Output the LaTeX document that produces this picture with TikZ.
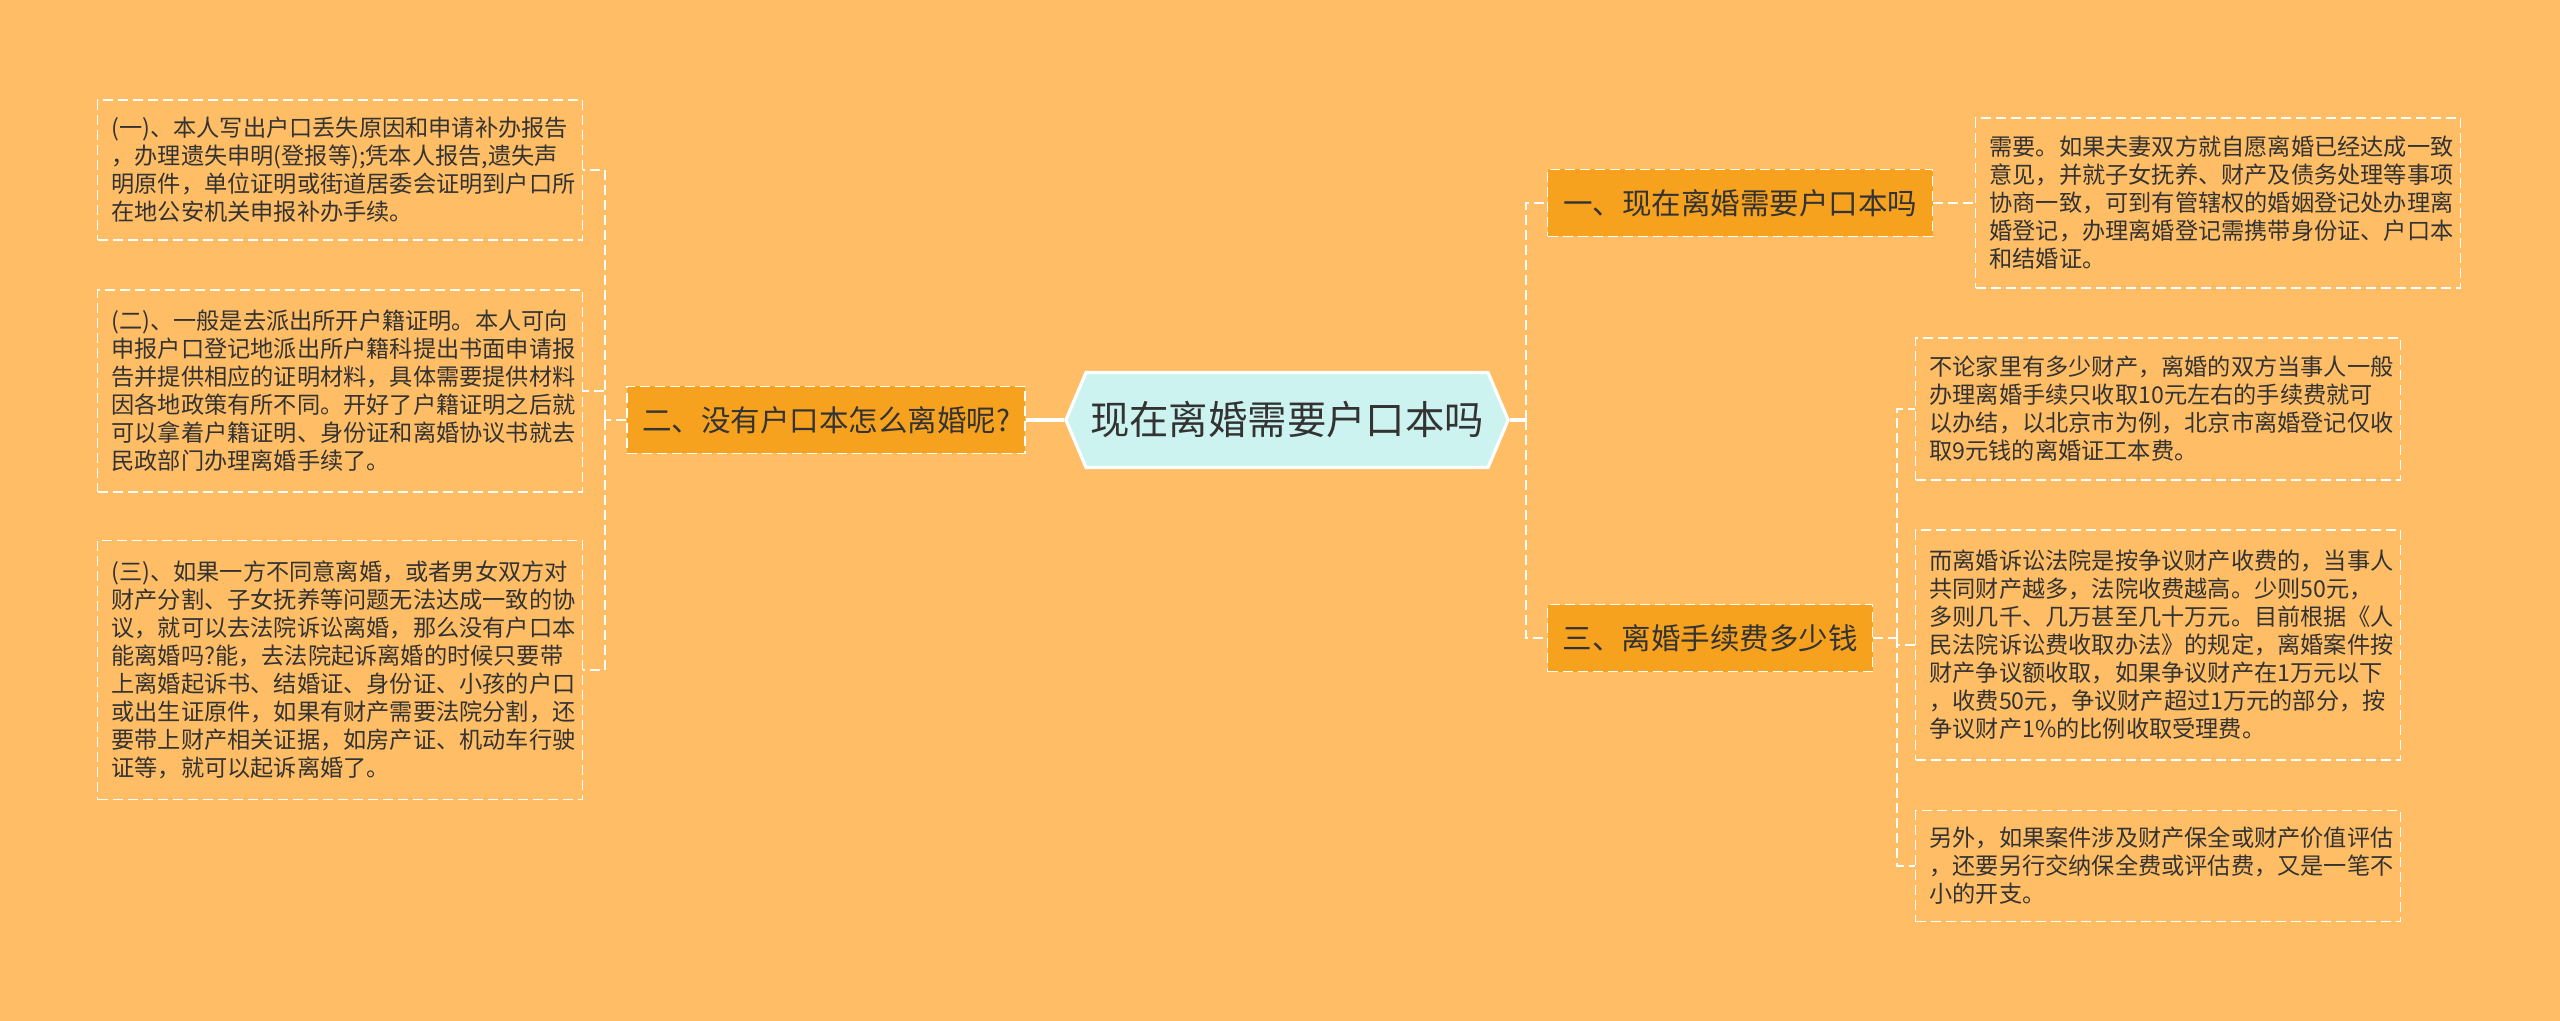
\documentclass[tikz,border=0pt]{standalone}
\usepackage{fontspec}
\setmainfont{Noto Sans CJK SC}
\usetikzlibrary{shapes.symbols}
\definecolor{bgorange}{HTML}{FFBE66}
\definecolor{branchorange}{HTML}{F7A21F}
\definecolor{rootcyan}{HTML}{CDF3F0}
\definecolor{textdark}{HTML}{333333}
\begin{document}
\begin{tikzpicture}[x=0.5pt,y=-0.5pt,
    rootnode/.style={shape=signal, signal to=west and east, signal pointer angle=134, fill=rootcyan, draw=white, line width=1.6pt, minimum width=218pt, minimum height=47.5pt, inner xsep=2pt, font=\fontsize{19.7}{22}\selectfont, text=textdark},
    branchbox/.style={fill=branchorange, draw=white, line width=0.85pt, dash pattern=on 5pt off 2.5pt, minimum height=33.5pt, inner xsep=6.5pt, font=\fontsize{14.75}{17}\selectfont, text=textdark},
    leafbox/.style={draw=white, line width=0.85pt, dash pattern=on 5pt off 2.5pt, text width=228.5pt, inner xsep=7pt, align=left, font=\fontsize{11.6}{14}\selectfont, text=textdark},
    mainlink/.style={draw=white, line width=1.7pt},
    sublink/.style={draw=white, line width=0.85pt, dash pattern=on 5pt off 2.5pt}]
        \fill[bgorange] (0,0) rectangle (2560,1021);
        \useasboundingbox (0,0) rectangle (2560,1021);
        \path (1287,420) node[rootnode] (root) {现在离婚需要户口本吗};
        \path (826,420) node[branchbox, minimum width=199pt] (nohukou) {二、没有户口本怎么离婚呢?};
        \path (1740,203) node[branchbox, minimum width=192.5pt] (needhukou) {一、现在离婚需要户口本吗};
        \path (1710,638) node[branchbox, minimum width=162.5pt] (fee) {三、离婚手续费多少钱};
        \path (340,170) node[leafbox, minimum height=70pt] (lost) {(一)、本人写出户口丢失原因和申请补办报告\\，办理遗失申明(登报等);凭本人报告,遗失声\\明原件，单位证明或街道居委会证明到户口所\\在地公安机关申报补办手续。};
        \path (340,391) node[leafbox, minimum height=101pt] (certificate) {(二)、一般是去派出所开户籍证明。本人可向\\申报户口登记地派出所户籍科提出书面申请报\\告并提供相应的证明材料，具体需要提供材料\\因各地政策有所不同。开好了户籍证明之后就\\可以拿着户籍证明、身份证和离婚协议书就去\\民政部门办理离婚手续了。};
        \path (340,670) node[leafbox, minimum height=129.5pt] (lawsuit) {(三)、如果一方不同意离婚，或者男女双方对\\财产分割、子女抚养等问题无法达成一致的协\\议，就可以去法院诉讼离婚，那么没有户口本\\能离婚吗?能，去法院起诉离婚的时候只要带\\上离婚起诉书、结婚证、身份证、小孩的户口\\或出生证原件，如果有财产需要法院分割，还\\要带上财产相关证据，如房产证、机动车行驶\\证等，就可以起诉离婚了。};
        \path (2218,203) node[leafbox, minimum height=85pt] (agree) {需要。如果夫妻双方就自愿离婚已经达成一致\\意见，并就子女抚养、财产及债务处理等事项\\协商一致，可到有管辖权的婚姻登记处办理离\\婚登记，办理离婚登记需携带身份证、户口本\\和结婚证。};
        \path (2158,409) node[leafbox, minimum height=71pt] (regfee) {不论家里有多少财产，离婚的双方当事人一般\\办理离婚手续只收取10元左右的手续费就可\\以办结，以北京市为例，北京市离婚登记仅收\\取9元钱的离婚证工本费。};
        \path (2158,645) node[leafbox, minimum height=115pt] (courtfee) {而离婚诉讼法院是按争议财产收费的，当事人\\共同财产越多，法院收费越高。少则50元，\\多则几千、几万甚至几十万元。目前根据《人\\民法院诉讼费收取办法》的规定，离婚案件按\\财产争议额收取，如果争议财产在1万元以下\\，收费50元，争议财产超过1万元的部分，按\\争议财产1\%的比例收取受理费。};
        \path (2158,866) node[leafbox, minimum height=55.5pt] (extra) {另外，如果案件涉及财产保全或财产价值评估\\，还要另行交纳保全费或评估费，又是一笔不\\小的开支。};
        \coordinate (leftjoint) at (605,420);
        \coordinate (rightjoint) at (1526,420);
        \coordinate (feejoint) at (1897,638);
        \draw[mainlink] (root.west) -- (nohukou.east);
        \draw[mainlink] (root.east) -- (rightjoint);
        \draw[sublink] (rightjoint) |- (needhukou.west);
        \draw[sublink] (rightjoint) |- (fee.west);
        \draw[sublink] (nohukou.west) -- (leftjoint);
        \foreach \leaf in {lost,certificate,lawsuit} \draw[sublink] (leftjoint) |- (\leaf.east);
        \draw[sublink] (needhukou.east) -- (agree.west);
        \draw[sublink] (fee.east) -- (feejoint);
        \foreach \leaf in {regfee,courtfee,extra} \draw[sublink] (feejoint) |- (\leaf.west);
    \end{tikzpicture}
\end{document}
